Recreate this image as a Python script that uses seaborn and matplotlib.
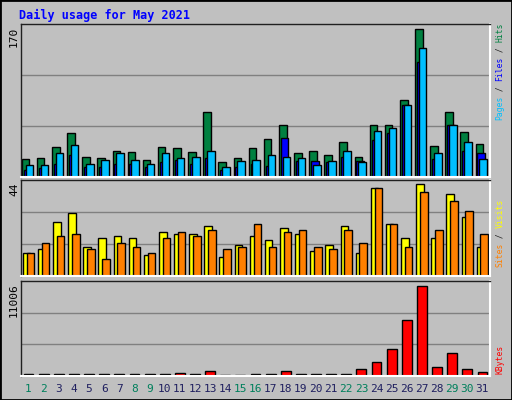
import numpy as np
import pandas as pd
import matplotlib
matplotlib.use("Agg")
import matplotlib.pyplot as plt
import seaborn as sns

days = list(range(1, 32))
weekend_days = [1, 2, 8, 9, 15, 16, 22, 23, 29, 30]
hits = [21,22,34,50,23,22,30,29,20,34,33,29,75,17,22,33,44,60,28,30,25,40,23,60,60,89,170,36,75,52,38]
files = [8,10,15,25,12,12,15,15,11,17,19,15,22,8,12,15,13,45,18,18,17,23,18,43,50,83,132,21,60,30,27]
pages = [14,14,28,37,15,20,27,20,15,28,22,23,30,11,18,20,25,23,22,14,18,30,17,53,56,83,148,27,60,40,21]
visits = [11,13,26,30,14,18,19,18,10,21,20,20,24,9,15,19,17,23,20,12,15,24,11,42,25,18,44,18,39,28,14]
sites = [11,16,19,20,13,8,16,14,11,18,21,19,22,13,14,25,14,21,22,14,13,22,16,42,25,14,40,22,36,31,20]
kbytes = [300,300,300,300,300,300,300,300,300,300,420,300,580,120,120,300,300,580,300,300,300,300,900,1680,3270,6830,11006,1060,2780,820,550]

sns.set_theme(style="white")
plt.rcParams['font.family'] = ['DejaVu Sans Mono', 'DejaVu Sans']
BG = "#C0C0C0"
W, H = 512, 400
fig = plt.figure(figsize=(W/100, H/100), dpi=100, facecolor=BG)

def px_axes(top, bottom):
    return fig.add_axes([21/W, 1-bottom/H, 469/W, (bottom-top)/H], facecolor=BG)

def style(ax, ymax):
    ax.set_xlim(0.5, 31.5)
    ax.set_ylim(0, ymax)
    ax.set_yticks([ymax/3, 2*ymax/3])
    ax.yaxis.grid(True, color="#808080", lw=1)
    ax.set_axisbelow(True)
    ax.tick_params(left=False, bottom=False, labelleft=False, labelbottom=False)
    ax.set_xlabel(""); ax.set_ylabel("")
    for s in ["top", "left"]:
        ax.spines[s].set_color("#202020"); ax.spines[s].set_linewidth(1)
    for s in ["bottom", "right"]:
        ax.spines[s].set_color("white"); ax.spines[s].set_linewidth(1.5)

def bars(ax, vals, off, width, color):
    df = pd.DataFrame({"x": np.array(days) + off, "y": vals})
    sns.barplot(data=df, x="x", y="y", native_scale=True, width=width, color=color,
                saturation=1, edgecolor="black", linewidth=1, errorbar=None, ax=ax)

ax1 = px_axes(24, 177)
bars(ax1, hits, -0.2, 0.5, "#008040")
bars(ax1, files, -0.08, 0.5, "#0000FF")
bars(ax1, pages, 0.05, 0.5, "#00BFFF")
style(ax1, 170*153/148)

ax2 = px_axes(180, 276)
bars(ax2, visits, -0.13, 0.5, "#FFFF00")
bars(ax2, sites, 0.12, 0.5, "#FF8000")
style(ax2, 44*96/92)

ax3 = px_axes(281, 376)
bars(ax3, kbytes, 0.0, 0.65, "#FF0000")
style(ax3, 11006*95/90)

fig.text(19/W, 1-15/H, "Daily usage for May 2021", color="#0000FF", fontsize=8.5,
         fontweight="bold", va="center", ha="left")

def ylabel(text, top):
    fig.text(14/W, 1-top/H, text, rotation=90, ha="center", va="top", fontsize=8, color="black")
ylabel("170", 27); ylabel("44", 182); ylabel("11006", 283)

FS = 5.8
CH = FS * 0.602 * 100 / 72
def rlabel(parts, bottom):
    y = bottom
    for txt, col in parts:
        fig.text(500/W, 1-y/H, txt, rotation=90, ha="center", va="bottom", fontsize=FS, color=col)
        y -= CH*len(txt)
rlabel([("Pages", "#00BFFF"), (" / ", "#202020"), ("Files", "#0000FF"), (" / ", "#202020"), ("Hits", "#008040")], 120)
rlabel([("Sites", "#FF8000"), (" / ", "#202020"), ("Visits", "#FFFF00")], 267)
rlabel([("KBytes", "#FF0000")], 374)

for d in days:
    x = 21 + (d - 0.5) / 31 * 469
    fig.text(x/W, 1-389/H, str(d), ha="center", va="center", fontsize=8,
             color="#00805C" if d in weekend_days else "#202060")

fig.patches.append(plt.Rectangle((0, 0), 1, 1, transform=fig.transFigure, fill=False,
                                 edgecolor="black", lw=2))
fig.savefig("out.png", dpi=100, facecolor=BG)
